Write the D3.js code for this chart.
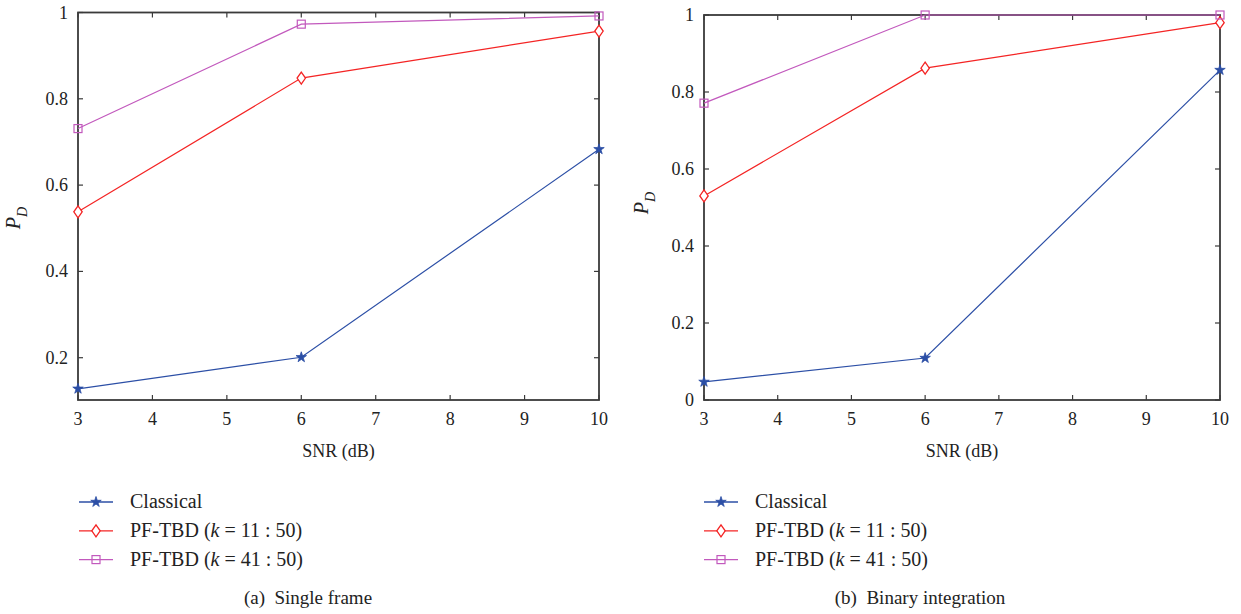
<!DOCTYPE html>
<html>
<head>
<meta charset="utf-8">
<script src="https://cdn.jsdelivr.net/npm/d3@7"></script>
<style>
  body { margin: 0; background: #fff; }
  svg { display: block; }
  text { font-family: "Liberation Serif", "DejaVu Serif", serif; fill: #222; white-space: pre; }
</style>
</head>
<body>
<svg id="chart" width="1241" height="614"></svg>
<script>
// x positions (SNR, dB)
var snr = [3, 6, 10];
var xTicks = [3, 4, 5, 6, 7, 8, 9, 10];

// panel (a) single frame
var singleClassical = [0.128, 0.201, 0.683];
var singleTbd11 = [0.538, 0.848, 0.957];
var singleTbd41 = [0.731, 0.973, 0.992];
var singleYTicks = [0.2, 0.4, 0.6, 0.8, 1];

// panel (b) binary integration
var binaryClassical = [0.047, 0.109, 0.857];
var binaryTbd11 = [0.530, 0.862, 0.980];
var binaryTbd41 = [0.771, 1.0, 1.0];
var binaryYTicks = [0, 0.2, 0.4, 0.6, 0.8, 1];

var seriesNames = ["Classical", "PF-TBD", "PF-TBD"];
var seriesK = [null, "11 : 50", "41 : 50"];
var seriesColors = ["#2c4fa6", "#f42424", "#c259bd"];
var seriesMarkers = ["star", "diamond", "square"];

var svg = d3.select("#chart");

// draws one marker shape centred at 0,0
var drawMarker = function (g, kind, color) {
    if (kind == "star") {
        g.append("path")
            .attr("d", d3.symbol().type(d3.symbolStar).size(34)())
            .attr("fill", color).attr("stroke", color).attr("stroke-width", 0.8);
    } else if (kind == "diamond") {
        g.append("path")
            .attr("d", "M0,-6L4.2,0L0,6L-4.2,0Z")
            .attr("fill", "#fff").attr("stroke", color).attr("stroke-width", 1.3);
    } else {
        g.append("rect")
            .attr("x", -4).attr("y", -4).attr("width", 8).attr("height", 8)
            .attr("fill", "none").attr("stroke", color).attr("stroke-width", 1.2);
    }
};

var panel = function (opts) {
    var x = d3.scaleLinear().domain([3, 10]).range([opts.left, opts.right]);
    var y = d3.scaleLinear().domain(opts.yDomain).range([opts.bottom, opts.top]);
    var g = svg.append("g");

    // inward ticks on all four sides
    var tickLen = 5;
    var frameColor = "#3a3a3a";
    xTicks.forEach(function (t) {
        g.append("line").attr("x1", x(t)).attr("x2", x(t))
            .attr("y1", opts.bottom).attr("y2", opts.bottom - tickLen)
            .attr("stroke", frameColor).attr("stroke-width", 1.2);
        g.append("line").attr("x1", x(t)).attr("x2", x(t))
            .attr("y1", opts.top).attr("y2", opts.top + tickLen)
            .attr("stroke", frameColor).attr("stroke-width", 1.2);
        g.append("text").attr("x", x(t)).attr("y", opts.bottom + 25)
            .attr("text-anchor", "middle").attr("font-size", 18).text(t);
    });
    opts.yTicks.forEach(function (t) {
        g.append("line").attr("x1", opts.left).attr("x2", opts.left + tickLen)
            .attr("y1", y(t)).attr("y2", y(t))
            .attr("stroke", frameColor).attr("stroke-width", 1.2);
        g.append("line").attr("x1", opts.right).attr("x2", opts.right - tickLen)
            .attr("y1", y(t)).attr("y2", y(t))
            .attr("stroke", frameColor).attr("stroke-width", 1.2);
        g.append("text").attr("x", opts.left - 10).attr("y", y(t) + 6)
            .attr("text-anchor", "end").attr("font-size", 18).text(t);
    });

    // axis box
    g.append("rect")
        .attr("x", opts.left).attr("y", opts.top)
        .attr("width", opts.right - opts.left).attr("height", opts.bottom - opts.top)
        .attr("fill", "none").attr("stroke", frameColor).attr("stroke-width", 1.8);

    // the lines and markers
    var line = d3.line().x(function (d, i) { return x(snr[i]); }).y(function (d) { return y(d); });
    opts.series.forEach(function (vals, s) {
        g.append("path").datum(vals).attr("d", line)
            .attr("fill", "none").attr("stroke", seriesColors[s]).attr("stroke-width", 1.2);
        vals.forEach(function (v, i) {
            var m = g.append("g").attr("transform", "translate(" + x(snr[i]) + "," + y(v) + ")");
            drawMarker(m, seriesMarkers[s], seriesColors[s]);
        });
    });

    // axis titles
    g.append("text").attr("x", (opts.left + opts.right) / 2).attr("y", opts.bottom + 57)
        .attr("text-anchor", "middle").attr("font-size", 18).text("SNR (dB)");
    var yl = g.append("text")
        .attr("transform", "translate(" + opts.yLabelX + "," + opts.yLabelY + ") rotate(-90)")
        .attr("text-anchor", "middle").attr("font-size", 20);
    yl.append("tspan").attr("font-style", "italic").text("P");
    yl.append("tspan").attr("font-style", "italic").attr("font-size", 14).attr("dy", 7).text("D");

    // legend
    seriesNames.forEach(function (name, s) {
        var ly = opts.legendY + s * 28.8;
        g.append("line").attr("x1", opts.legendX).attr("x2", opts.legendX + 34)
            .attr("y1", ly).attr("y2", ly)
            .attr("stroke", seriesColors[s]).attr("stroke-width", 1.3);
        var m = g.append("g").attr("transform", "translate(" + (opts.legendX + 17) + "," + ly + ")");
        drawMarker(m, seriesMarkers[s], seriesColors[s]);
        var t = g.append("text").attr("x", opts.legendX + 51).attr("y", ly + 6).attr("font-size", 20);
        t.append("tspan").text(name);
        if (seriesK[s]) {
            t.append("tspan").text(" (");
            t.append("tspan").attr("font-style", "italic").text("k");
            t.append("tspan").text(" = " + seriesK[s] + ")");
        }
    });

    // caption
    g.append("text").attr("x", opts.captionX).attr("y", 604)
        .attr("text-anchor", "middle").attr("font-size", 19).text(opts.caption);
};

panel({
    left: 78, right: 599, top: 12.5, bottom: 400,
    yDomain: [0.102, 1], yTicks: singleYTicks,
    series: [singleClassical, singleTbd11, singleTbd41],
    yLabelX: 20, yLabelY: 218,
    legendX: 79, legendY: 502,
    captionX: 308, caption: "(a)  Single frame"
});

panel({
    left: 704, right: 1220, top: 15, bottom: 400,
    yDomain: [0, 1], yTicks: binaryYTicks,
    series: [binaryClassical, binaryTbd11, binaryTbd41],
    yLabelX: 648, yLabelY: 203,
    legendX: 704, legendY: 502,
    captionX: 920, caption: "(b)  Binary integration"
});
</script>
</body>
</html>
